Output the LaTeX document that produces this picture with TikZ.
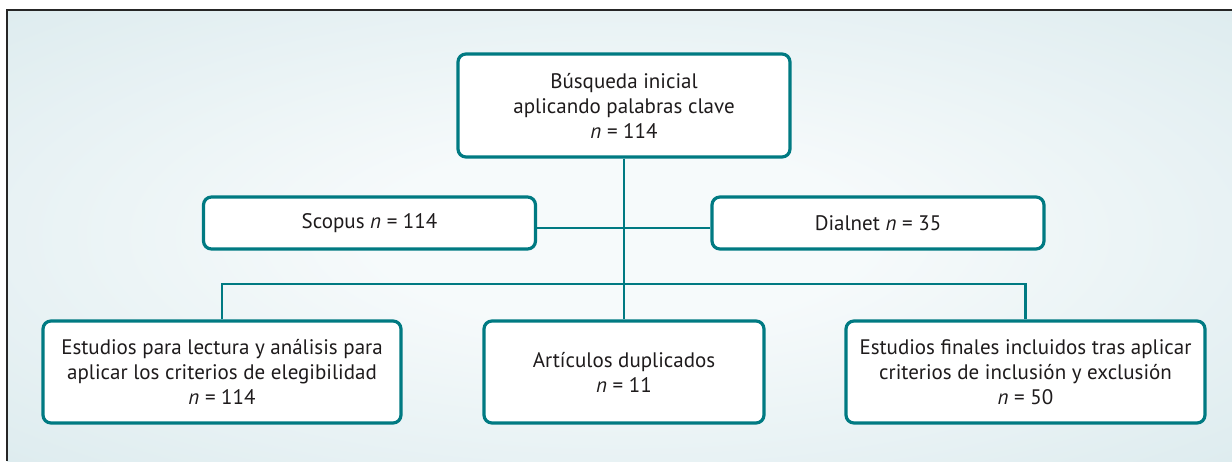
\documentclass[tikz,border=0pt]{standalone}
\usepackage{fontspec}
\setmainfont{PT Sans}
\usepackage{tikz}
\usetikzlibrary{calc}
\definecolor{verde}{RGB}{0,122,130}
\definecolor{texto}{RGB}{30,27,28}
\definecolor{fondoin}{RGB}{246,250,251}
\definecolor{fondoout}{RGB}{210,229,233}
\pgfdeclareradialshading{fondo}{\pgfpoint{0bp}{0bp}}{color(0bp)=(fondoin); color(10bp)=(fondoin); color(48bp)=(fondoout); color(80bp)=(fondoout)}
\tikzset{
	caja/.style={shape=rectangle,draw=verde,line width=1.6pt,rounded corners=4pt,fill=white,align=center,inner sep=0pt,text=texto,font=\fontsize{10.5}{12.5}\selectfont},
	linea/.style={draw=verde,line width=1.4pt},
	marco/.style={draw=black!85,line width=1pt}
}
\newcommand{\drawcaja}[5]{
	\draw #1 node (#2) [caja,minimum width=#3,minimum height=#4] {#5};
}
\begin{document}
\begin{tikzpicture}[x=0.5pt,y=-0.5pt]
	\useasboundingbox (0,0) rectangle (1232,461);
	\shade[shading=fondo] (7,10) rectangle (1232,461);
	\draw[marco] (7,461) -- (7,10) -- (1232,10);
	\drawcaja{(624,105.5)}{busq}{166pt}{51.5pt}{Búsqueda inicial\\aplicando palabras clave\\\textit{n} = 114}
	\drawcaja{(369.5,223)}{scop}{166pt}{26pt}{Scopus \textit{n} = 114}
	\drawcaja{(878,223)}{dial}{166pt}{26pt}{Dialnet \textit{n} = 35}
	\drawcaja{(222,372)}{est}{179pt}{51pt}{Estudios para lectura y análisis para\\aplicar los criterios de elegibilidad\\\textit{n} = 114}
	\drawcaja{(624,372)}{dupl}{140pt}{51pt}{Artículos duplicados\\\textit{n} = 11}
	\drawcaja{(1025.5,372)}{fin}{179.5pt}{51pt}{Estudios finales incluidos tras aplicar\\criterios de inclusión y exclusión\\\textit{n} = 50}
	\coordinate (rama) at (624,284);
	\draw[linea] (busq) -- (dupl);
	\draw[linea] ([yshift=-2.5pt]scop.east) -- ([yshift=-2.5pt]dial.west);
	\draw[linea] (est.north) |- (rama) -| (fin.north);
\end{tikzpicture}
\end{document}
